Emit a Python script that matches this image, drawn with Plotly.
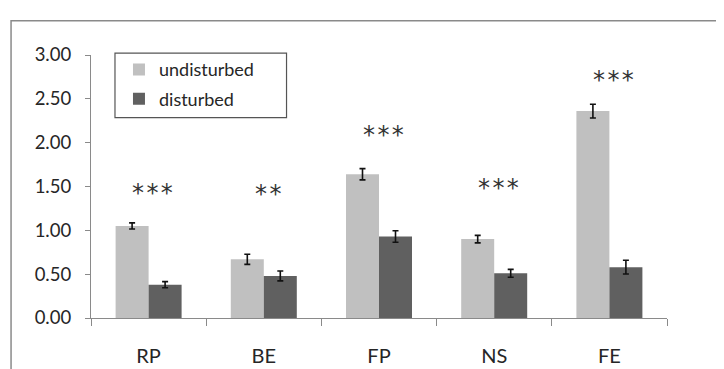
import plotly.graph_objects as go

categories = ["RP", "BE", "FP", "NS", "FE"]
undisturbed = [1.05, 0.67, 1.64, 0.90, 2.36]
undisturbed_err = [0.035, 0.058, 0.064, 0.043, 0.078]
disturbed = [0.38, 0.48, 0.93, 0.51, 0.58]
disturbed_err = [0.035, 0.056, 0.066, 0.045, 0.078]
signif = ["***", "**", "***", "***", "***"]
signif_y = [1.475, 1.47, 2.134, 1.536, 2.767]
y_ticks = [0, 0.5, 1.0, 1.5, 2.0, 2.5, 3.0]

FONT = "Lato"
fig = go.Figure()
fig.add_trace(go.Bar(
    name="undisturbed", x=categories, y=undisturbed,
    marker=dict(color="#C0C0C0", line=dict(width=0)),
    error_y=dict(type="data", array=undisturbed_err, color="#111111", thickness=1.6, width=3),
    legendgroup="a",
))
fig.add_trace(go.Bar(
    name="disturbed", x=categories, y=disturbed,
    marker=dict(color="#606060", line=dict(width=0)),
    error_y=dict(type="data", array=disturbed_err, color="#111111", thickness=1.6, width=3),
    legendgroup="b",
))

for c, s, yv in zip(categories, signif, signif_y):
    fig.add_annotation(x=c, y=yv, text="\u200a".join(s), showarrow=False, xshift=4, yshift=-4.5,
                       font=dict(family="DejaVu Sans", size=24, color="#333333"),
                       yanchor="middle")

# outer frame
fig.add_shape(type="rect", xref="paper", yref="paper",
              x0=-0.1388, x1=1.3, y0=-0.4, y1=1.1307,
              line=dict(color="#8a8a8a", width=1.5), fillcolor="rgba(0,0,0,0)")
# legend box
fig.add_shape(type="rect", xref="paper", yref="paper",
              x0=(115 - 91) / 576.5, x1=(286.7 - 91) / 576.5,
              y0=(318.5 - 117.3) / 264, y1=(318.5 - 52.7) / 264,
              line=dict(color="#555555", width=1.2), fillcolor="rgba(0,0,0,0)")

fig.update_layout(
    width=716, height=361,
    margin=dict(l=83, r=56.5, t=46.5, b=50.5, autoexpand=False),
    paper_bgcolor="white", plot_bgcolor="white",
    barmode="group", bargap=0.427, bargroupgap=0,
    font=dict(family=FONT, size=18, color="#262626"),
    showlegend=True,
    legend=dict(x=(119 - 91) / 576.5, y=(320.5 - 52.7) / 264, xanchor="left", yanchor="top",
                bgcolor="rgba(0,0,0,0)", borderwidth=0, tracegroupgap=3,
                traceorder="grouped", font=dict(family=FONT, size=18, color="#262626")),
)
fig.update_xaxes(
    type="category", showline=True, linecolor="#8a8a8a", linewidth=1.2,
    ticks="outside", tickson="boundaries", ticklen=7, tickcolor="#8a8a8a", tickwidth=1.2,
    ticklabelstandoff=20, tickfont=dict(size=20),
    showgrid=False, zeroline=False, automargin=False,
)
fig.update_yaxes(
    range=[0, 3.0], tickvals=y_ticks, tickformat=".2f",
    showline=True, linecolor="#8a8a8a", linewidth=1.2,
    ticks="outside", ticklen=5, tickcolor="#8a8a8a", tickwidth=1.2,
    ticklabelstandoff=10, tickfont=dict(size=18.5),
    showgrid=False, zeroline=False, automargin=False,
)

fig.write_html("out.html")
